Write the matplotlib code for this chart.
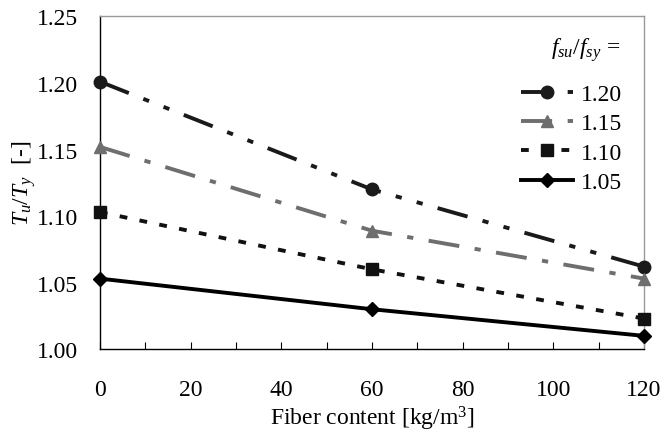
import matplotlib
matplotlib.use("Agg")
import matplotlib.pyplot as plt

# data
fiber = [0, 60, 120]
ratios = ["1.20", "1.15", "1.10", "1.05"]
tu_120 = [1.201, 1.120, 1.062]
tu_115 = [1.152, 1.089, 1.053]
tu_110 = [1.103, 1.060, 1.023]
tu_105 = [1.053, 1.030, 1.010]
x_ticks = [0, 20, 40, 60, 80, 100, 120]
y_ticks = [1.00, 1.05, 1.10, 1.15, 1.20, 1.25]

plt.rcParams['font.family'] = ['Liberation Serif', 'DejaVu Serif']
plt.rcParams['mathtext.fontset'] = 'custom'
plt.rcParams['mathtext.it'] = 'Liberation Serif:italic'
plt.rcParams['mathtext.rm'] = 'Liberation Serif'

fs = 17
fig = plt.figure(figsize=(6.66, 4.35), dpi=100)
ax = fig.add_axes([0.150, 0.195, 0.817, 0.765])

lw = 2.8
styles = [
    (tu_120, 'o', '#1a1a1a', (0, (8, 4, 1.6, 4, 1.6, 4)), 9),
    (tu_115, '^', '#6e6e6e', (0, (8, 4, 1.6, 4)), 9),
    (tu_110, 's', '#111111', (0, (2.0, 3.2)), 8),
    (tu_105, 'D', '#000000', '-', 7.5),
]
for (vals, mk, col, ls, ms), lab in zip(styles, ratios):
    ax.plot(fiber, vals, color=col, linestyle=ls, linewidth=lw, marker=mk,
            markersize=ms, markerfacecolor=col, markeredgecolor=col,
            clip_on=False, label=lab, zorder=3)

ax.set_xlim(0, 120)
ax.set_ylim(1.00, 1.25)
ax.set_xticks(x_ticks)
ax.set_xticks(range(0, 121, 10), minor=True)
ax.set_yticks(y_ticks)
ax.set_yticklabels([f"{v:.2f}" for v in y_ticks])
ax.tick_params(axis='x', which='both', direction='in', length=5, width=0.8,
               labelsize=fs, pad=21.5)
ax.tick_params(axis='y', length=0, labelsize=fs, pad=16)

for s in ['top', 'right']:
    ax.spines[s].set_color('#999999')
    ax.spines[s].set_linewidth(1.0)
for s in ['left', 'bottom']:
    ax.spines[s].set_color('black')
    ax.spines[s].set_linewidth(1.0)

ax.set_xlabel("Fiber content [kg/m$^3$]", fontsize=fs, labelpad=2.5)
ax.set_ylabel(r"$T_u/T_y$  [-]", fontsize=fs, labelpad=-1)

leg = ax.legend(loc='upper right', frameon=False, fontsize=fs,
                handlelength=2.2, handletextpad=0.35,
                labelspacing=0.33, borderaxespad=0.0, borderpad=0.0,
                bbox_to_anchor=(0.934, 0.806),
                bbox_transform=fig.transFigure)
fig.text(0.931, 0.885, r"$f_{su}/f_{sy}$ =", ha='right', va='center',
         fontsize=fs)

fig.savefig("out.png", dpi=100)
